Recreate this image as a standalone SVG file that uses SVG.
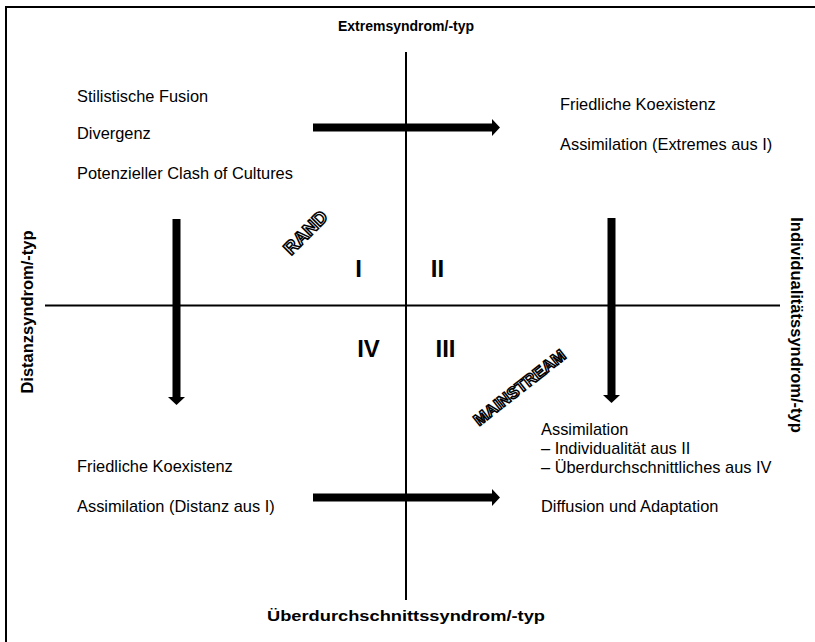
<svg xmlns="http://www.w3.org/2000/svg" width="815" height="642" viewBox="0 0 815 642">
  <style>
    .t { font-family: "Liberation Sans", Arial, sans-serif; font-size: 16.4px; fill: #000; }
    .b { font-family: "Liberation Sans", Arial, sans-serif; font-weight: bold; fill: #000; text-anchor: middle; }
    .q { font-family: "Liberation Sans", Arial, sans-serif; font-size: 24px; font-weight: bold; fill: #000; text-anchor: middle; }
    .o { font-family: "Liberation Sans", Arial, sans-serif; font-weight: bold; fill: #fff; stroke: #000; stroke-width: 1.5; text-anchor: middle; }
    .axis { stroke: #000; stroke-width: 2; fill: none; }
    .arrow { stroke: #000; stroke-width: 8; fill: none; }
  </style>
  <defs>
    <marker id="head" viewBox="0 0 8 17" refX="0" refY="8.5" markerWidth="8" markerHeight="17" markerUnits="userSpaceOnUse" orient="auto">
      <path d="M0,0 L8,8.5 L0,17 Z" fill="#000"/>
    </marker>
  </defs>
  <rect width="815" height="642" fill="#fff"/>
  <path class="axis" d="M6,642 V7 H815"/>

  <g id="axes">
    <line class="axis" x1="406" y1="52" x2="406" y2="600"/>
    <line class="axis" x1="45" y1="305.5" x2="780" y2="305.5"/>
  </g>

  <g id="connectors">
    <line class="arrow" x1="313" y1="127.5" x2="492" y2="127.5" marker-end="url(#head)"/>
    <line class="arrow" x1="313" y1="497.5" x2="492" y2="497.5" marker-end="url(#head)"/>
    <line class="arrow" x1="176.5" y1="219" x2="176.5" y2="397" marker-end="url(#head)"/>
    <line class="arrow" x1="611.5" y1="218" x2="611.5" y2="395" marker-end="url(#head)"/>
  </g>

  <g id="axis-labels">
    <text class="b" x="406" y="31" style="font-size:14px">Extremsyndrom/-typ</text>
    <text class="b" x="406" y="621" style="font-size:15px" textLength="278" lengthAdjust="spacingAndGlyphs">Überdurchschnittssyndrom/-typ</text>
    <text class="b" transform="translate(33,312) rotate(-90)" style="font-size:16.5px">Distanzsyndrom/-typ</text>
    <text class="b" transform="translate(791,325) rotate(90)" style="font-size:16.5px">Individualitätssyndrom/-typ</text>
  </g>

  <g id="quadrants">
    <text class="q" x="358.5" y="277">I</text>
    <text class="q" x="437.5" y="277">II</text>
    <text class="q" x="368.5" y="357">IV</text>
    <text class="q" x="445.5" y="357">III</text>
  </g>

  <g id="rand">
    <text class="o" style="font-size:18.5px" transform="translate(310,237) rotate(-45)">RAND</text>
  </g>
  <g id="mainstream">
    <text class="o" style="font-size:16.5px" transform="translate(523,392) rotate(-38)">MAINSTREAM</text>
  </g>

  <g id="q1-text">
    <text class="t" x="77" y="102">Stilistische Fusion</text>
    <text class="t" x="77" y="139">Divergenz</text>
    <text class="t" x="77" y="179">Potenzieller Clash of Cultures</text>
  </g>
  <g id="q2-text">
    <text class="t" x="560" y="110">Friedliche Koexistenz</text>
    <text class="t" x="560" y="150">Assimilation (Extremes aus I)</text>
  </g>
  <g id="q4-text">
    <text class="t" x="77" y="472">Friedliche Koexistenz</text>
    <text class="t" x="77" y="512">Assimilation (Distanz aus I)</text>
  </g>
  <g id="q3-text">
    <text class="t" x="541" y="435">Assimilation</text>
    <text class="t" x="541" y="454">– Individualität aus II</text>
    <text class="t" x="541" y="473">– Überdurchschnittliches aus IV</text>
    <text class="t" x="541" y="512">Diffusion und Adaptation</text>
  </g>
</svg>
